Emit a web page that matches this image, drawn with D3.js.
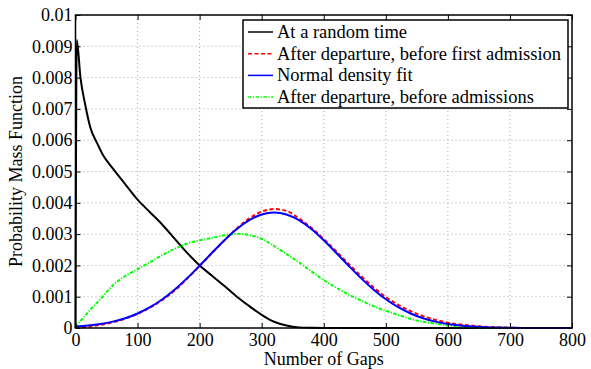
<!DOCTYPE html>
<html>
<head>
<meta charset="utf-8">
<script src="https://cdn.jsdelivr.net/npm/d3@7"></script>
<style>
  body { margin: 0; background: #fff; }
  svg text { font-family: "Liberation Serif", "Times New Roman", serif !important; }
</style>
</head>
<body>
<div id="chart"></div>
<script>
// x ticks and y ticks
var xTicks = [0, 100, 200, 300, 400, 500, 600, 700, 800];
var yTicks = [0, 0.001, 0.002, 0.003, 0.004, 0.005, 0.006, 0.007, 0.008, 0.009, 0.01];
var yTickLabels = ["0", "0.001", "0.002", "0.003", "0.004", "0.005", "0.006", "0.007", "0.008", "0.009", "0.01"];

var seriesNames = ["At a random time", "After departure, before first admission",
                   "Normal density fit", "After departure, before admissions"];

// At a random time
var randomX = [0, 2, 8, 16, 24, 35, 45, 60, 80, 100, 120, 140, 160, 180, 200, 220, 240, 260, 280, 300, 320, 340, 360, 380, 400, 800];
var randomY = [0, 0.0092, 0.0080, 0.0071, 0.0064, 0.0059, 0.0055, 0.0051, 0.0046, 0.0041, 0.0037, 0.0033, 0.00285, 0.0024, 0.0020,
               0.00167, 0.00134, 0.001, 0.0007, 0.00042, 0.0002, 0.00008, 0.00002, 0.000005, 0, 0];

// shared grid for the other three curves
var gapX = [0, 20, 40, 60, 80, 100, 120, 140, 160, 180, 200, 220, 240, 260, 280, 300, 320, 340, 360, 380, 400,
            420, 440, 460, 480, 500, 520, 540, 560, 580, 600, 620, 640, 660, 680, 700, 720, 740, 760, 780, 800];

var firstAdmY = [0.00001, 0.00004, 0.0001, 0.00018, 0.0003, 0.00045, 0.00065, 0.0009, 0.0012, 0.00158, 0.00198,
                 0.0024, 0.0028, 0.00318, 0.0035, 0.00372, 0.0038, 0.00374, 0.0035, 0.0032, 0.00284,
                 0.00245, 0.00205, 0.00166, 0.0013, 0.00099, 0.00074, 0.00054, 0.00038, 0.00026, 0.00017,
                 0.00011, 0.00007, 0.00004, 0.00002, 0.00001, 0, 0, 0, 0, 0];

var normalFitY = [0.000046, 0.000078, 0.000128, 0.000203, 0.000312, 0.000464, 0.000664, 0.00092, 0.001232, 0.001593, 0.001991,
                  0.002403, 0.002804, 0.003162, 0.003445, 0.003627, 0.00369, 0.003627, 0.003445, 0.003162, 0.002804,
                  0.002403, 0.001991, 0.001593, 0.001232, 0.00092, 0.000664, 0.000464, 0.000312, 0.000203, 0.000128,
                  0.000078, 0.000046, 0.000026, 0.000014, 0.0000075, 0.000004, 0.000002, 0.000001, 0, 0];

var admissionsY = [0.00003, 0.0005, 0.00092, 0.00136, 0.00166, 0.00188, 0.0021, 0.00233, 0.00253, 0.0027, 0.0028,
                   0.00288, 0.00296, 0.00301, 0.00297, 0.00285, 0.00262, 0.00236, 0.0021, 0.00181, 0.00153,
                   0.00129, 0.00107, 0.00088, 0.0007, 0.00055, 0.00042, 0.00029, 0.0002, 0.00014, 0.00008,
                   0.00004, 0.00002, 0.00001, 0, 0, 0, 0, 0, 0, 0];

function init() {
    var w = 591, h = 369;
    var m = {left: 75.5, right: 19, top: 15, bottom: 41};
    var serif = "'Liberation Serif', 'Times New Roman', serif";

    var svg = d3.select("#chart").append("svg")
        .attr("width", w)
        .attr("height", h)
        .style("font-family", serif);

    var xScale = d3.scaleLinear().domain([0, 800]).range([m.left, w - m.right]);
    var yScale = d3.scaleLinear().domain([0, 0.01]).range([h - m.bottom, m.top]);

    // grid
    svg.append("g").selectAll("line")
        .data(xTicks.slice(1, -1))
        .enter().append("line")
        .attr("x1", function(d) { return xScale(d); })
        .attr("x2", function(d) { return xScale(d); })
        .attr("y1", yScale(0))
        .attr("y2", yScale(0.01))
        .attr("stroke", "#a8a8a8")
        .attr("stroke-width", 1)
        .attr("stroke-dasharray", "1,3");

    svg.append("g").selectAll("line")
        .data(yTicks.slice(1, -1))
        .enter().append("line")
        .attr("y1", function(d) { return yScale(d); })
        .attr("y2", function(d) { return yScale(d); })
        .attr("x1", xScale(0))
        .attr("x2", xScale(800))
        .attr("stroke", "#a8a8a8")
        .attr("stroke-width", 1)
        .attr("stroke-dasharray", "1,3");

    // curves
    function draw(xs, ys, color, dash) {
        var line = d3.line()
            .x(function(d, i) { return xScale(xs[i]); })
            .y(function(d) { return yScale(d); })
            .curve(d3.curveMonotoneX);
        svg.append("path")
            .datum(ys)
            .attr("d", line)
            .attr("fill", "none")
            .attr("stroke", color)
            .attr("stroke-width", 2)
            .attr("stroke-dasharray", dash);
    }
    draw(randomX, randomY, "#000000", null);
    draw(gapX, admissionsY, "#00ff00", "3.5,1.5,1.2,1.5");
    draw(gapX, firstAdmY, "#ff0000", "4,2.5");
    draw(gapX, normalFitY, "#0000ff", null);

    // axes (ticks inward)
    var xAxis = d3.axisBottom(xScale).tickValues(xTicks).tickSizeInner(-5).tickSizeOuter(0).tickPadding(5);
    var xTop = d3.axisTop(xScale).tickValues(xTicks).tickSizeInner(-5).tickSizeOuter(0).tickFormat("");
    var yAxis = d3.axisLeft(yScale).tickValues(yTicks).tickSizeInner(-5).tickSizeOuter(0).tickPadding(3)
        .tickFormat(function(d, i) { return yTickLabels[i]; });
    var yRight = d3.axisRight(yScale).tickValues(yTicks).tickSizeInner(-5).tickSizeOuter(0).tickFormat("");

    svg.append("g").attr("transform", "translate(0," + yScale(0) + ")").call(xAxis);
    svg.append("g").attr("transform", "translate(0," + yScale(0.01) + ")").call(xTop);
    svg.append("g").attr("transform", "translate(" + xScale(0) + ",0)").call(yAxis);
    svg.append("g").attr("transform", "translate(" + xScale(800) + ",0)").call(yRight);

    svg.selectAll(".domain").remove();
    svg.selectAll(".tick line").attr("stroke", "#000").attr("stroke-width", 1);
    svg.selectAll(".tick text")
        .style("font-family", serif)
        .attr("font-size", 18)
        .attr("fill", "#000");

    // frame
    svg.append("rect")
        .attr("x", xScale(0))
        .attr("y", yScale(0.01))
        .attr("width", xScale(800) - xScale(0))
        .attr("height", yScale(0) - yScale(0.01))
        .attr("fill", "none")
        .attr("stroke", "#000")
        .attr("stroke-width", 1.5);

    // axis labels
    svg.append("text")
        .attr("x", (xScale(0) + xScale(800)) / 2)
        .attr("y", 365)
        .attr("text-anchor", "middle")
        .style("font-family", serif)
        .attr("font-size", 18)
        .text("Number of Gaps");

    svg.append("text")
        .attr("transform", "translate(22," + ((yScale(0) + yScale(0.01)) / 2) + ") rotate(-90)")
        .attr("text-anchor", "middle")
        .style("font-family", serif)
        .attr("font-size", 18)
        .text("Probability Mass Function");

    // legend
    var lx = 243, ly = 20, lw = 325, lh = 88, rowH = 21.7;
    var legend = svg.append("g");
    legend.append("rect")
        .attr("x", lx).attr("y", ly)
        .attr("width", lw).attr("height", lh)
        .attr("fill", "#fff")
        .attr("stroke", "#000")
        .attr("stroke-width", 1.5);

    var colors = ["#000000", "#ff0000", "#0000ff", "#00ff00"];
    var dashes = [null, "4,2.5", null, "3.5,1.5,1.2,1.5"];
    var rows = legend.selectAll("g.row")
        .data(seriesNames)
        .enter().append("g")
        .attr("class", "row")
        .attr("transform", function(d, i) { return "translate(0," + (ly + 12 + i * rowH) + ")"; });
    rows.append("line")
        .attr("x1", lx + 5).attr("x2", lx + 30)
        .attr("y1", 0).attr("y2", 0)
        .attr("stroke", function(d, i) { return colors[i]; })
        .attr("stroke-width", 1.5)
        .attr("stroke-dasharray", function(d, i) { return dashes[i]; });
    rows.append("text")
        .attr("x", lx + 34)
        .attr("y", 6)
        .style("font-family", serif)
        .attr("font-size", 18.5)
        .text(function(d) { return d; });
}
window.onload = init;
</script>
</body>
</html>
